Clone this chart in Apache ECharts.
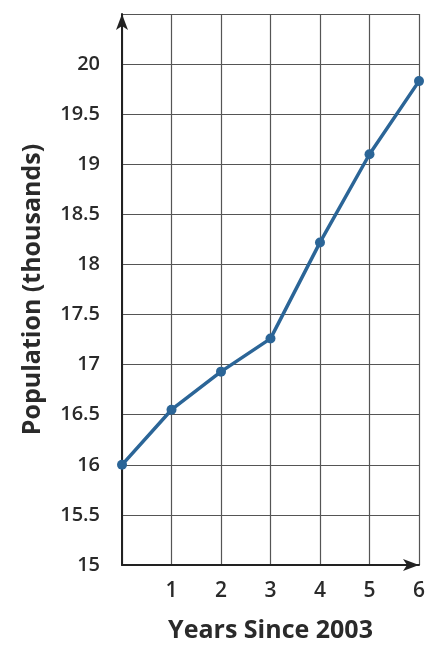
<!DOCTYPE html>
<html>
<head>
<meta charset="utf-8">
<script src="https://cdn.jsdelivr.net/npm/echarts@6/dist/echarts.min.js"></script>
<style>
  html, body { margin: 0; padding: 0; background: #fff; }
  #chart { width: 428px; height: 648px; }
</style>
</head>
<body>
<div id="chart"></div>
<script>
// years since 2003 and population in thousands
var years = [0, 1, 2, 3, 4, 5, 6];
var population = [16.0, 16.55, 16.93, 17.26, 18.22, 19.1, 19.83];

var chart = echarts.init(document.getElementById("chart"));
var ink = "#2a2a2a";
var gridColor = "#555";

chart.setOption({
  animation: false,
  grid: { left: 122, right: 2, top: 14, bottom: 82 },
  xAxis: {
    type: "value",
    min: 0,
    max: 6,
    interval: 1,
    name: "Years Since 2003",
    nameLocation: "middle",
    nameGap: 53,
    nameTextStyle: { color: ink, fontFamily: "Open Sans", fontWeight: "bold", fontSize: 25 },
    axisLine: { show: true, symbol: ["none", "arrow"], symbolSize: [9, 16], lineStyle: { color: "#222", width: 2 } },
    axisTick: { show: false },
    axisLabel: {
      color: ink, fontFamily: "Open Sans", fontWeight: 600, fontSize: 21, margin: 16,
      formatter: function (v) { return v === 0 ? "" : v; }
    },
    splitLine: { show: true, lineStyle: { color: gridColor, width: 1.2 } }
  },
  yAxis: {
    type: "value",
    min: 15,
    max: 20.5,
    interval: 0.5,
    name: "Population (thousands)",
    nameLocation: "middle",
    nameGap: 77,
    nameTextStyle: { color: ink, fontFamily: "Open Sans", fontWeight: "bold", fontSize: 25 },
    axisLine: { show: true, symbol: ["none", "arrow"], symbolSize: [9, 16], lineStyle: { color: "#222", width: 2 } },
    axisTick: { show: false },
    axisLabel: {
      color: ink, fontFamily: "Open Sans", fontWeight: 600, fontSize: 20, margin: 22,
      formatter: function (v) { return v > 20 ? "" : v; }
    },
    splitLine: { show: true, lineStyle: { color: gridColor, width: 1.2 } }
  },
  series: [{
    type: "line",
    data: years.map(function (x, i) { return [x, population[i]]; }),
    symbol: "circle",
    symbolSize: 10,
    lineStyle: { color: "#2b6597", width: 3.5 },
    itemStyle: { color: "#2b6597" },
    clip: false
  }]
});
</script>
</body>
</html>
